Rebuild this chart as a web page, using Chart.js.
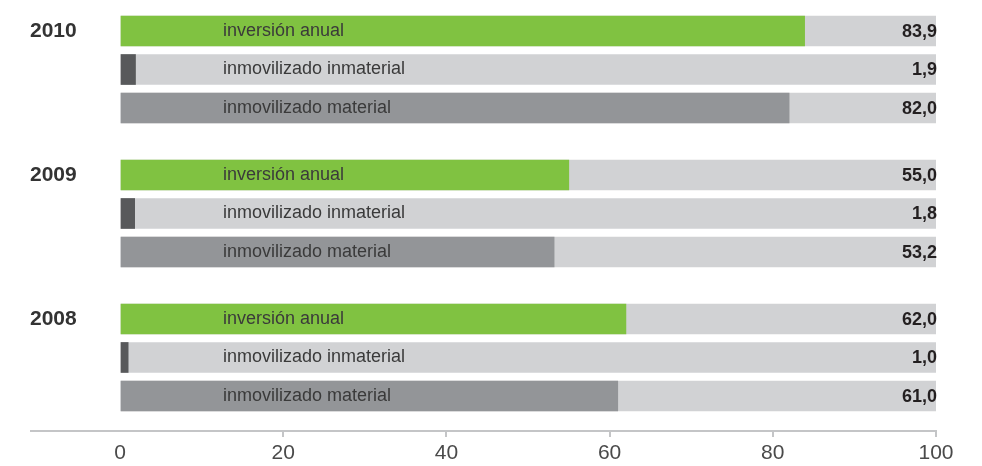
<!DOCTYPE html>
<html>
<head>
<meta charset="utf-8">
<script src="https://cdn.jsdelivr.net/npm/chart.js@4/dist/chart.umd.min.js"></script>
<style>
  html, body { margin: 0; padding: 0; background: #ffffff; }
  #wrap { width: 982px; height: 466px; position: relative; }
</style>
</head>
<body>
<div id="wrap"><canvas id="c"></canvas></div>
<script>
// Years, top to bottom
const years = ['2010', '2009', '2008'];
// Row names inside each group
const seriesNames = ['inversión anual', 'inmovilizado inmaterial', 'inmovilizado material'];
// Values (millones) per year, same order as years
const inversionAnual = [83.9, 55.0, 62.0];
const inmovilizadoInmaterial = [1.9, 1.8, 1.0];
const inmovilizadoMaterial = [82.0, 53.2, 61.0];
// Axis ticks
const xTicks = [0, 20, 40, 60, 80, 100];

const seriesValues = [inversionAnual, inmovilizadoInmaterial, inmovilizadoMaterial];
const seriesColors = ['#80c241', '#58595b', '#939598'];
const trackColor = '#d1d2d4';
const GROUP_STEP = 3.74;
const rowPos = (g, r) => g * GROUP_STEP + r;

const datasets = [];
// light grey track behind every row
const track = [];
years.forEach((y, g) => seriesNames.forEach((s, r) => track.push({ x: [0, 100], y: rowPos(g, r) })));
datasets.push({ label: 'fondo', data: track, backgroundColor: trackColor, order: 3 });
seriesNames.forEach((name, r) => {
  datasets.push({
    label: name,
    data: years.map((y, g) => ({ x: seriesValues[r][g], y: rowPos(g, r) })),
    backgroundColor: seriesColors[r],
    order: 1
  });
});

const labelPlugin = {
  id: 'rowLabels',
  afterDatasetsDraw(chart) {
    const { ctx, chartArea, scales } = chart;
    const xs = scales.x, ys = scales.y;
    ctx.save();
    ctx.textBaseline = 'middle';
    years.forEach((y, g) => {
      seriesNames.forEach((name, r) => {
        const py = ys.getPixelForValue(rowPos(g, r));
        ctx.font = '18px "Liberation Sans", Arial, sans-serif';
        ctx.fillStyle = '#3a3a3a';
        ctx.textAlign = 'left';
        ctx.fillText(name, chartArea.left + 103, py);
        ctx.font = 'bold 18px "Liberation Sans", Arial, sans-serif';
        ctx.fillStyle = '#231f20';
        ctx.textAlign = 'right';
        const v = seriesValues[r][g];
        ctx.fillText(v.toFixed(1).replace('.', ','), xs.getPixelForValue(100) + 1, py + 1);
      });
    });
    // axis baseline, extending left past the bars
    ctx.strokeStyle = '#c4c5c7';
    ctx.lineWidth = 2;
    ctx.beginPath();
    ctx.moveTo(30, chartArea.bottom);
    ctx.lineTo(xs.getPixelForValue(100) + 1, chartArea.bottom);
    ctx.stroke();
    ctx.restore();
  }
};

new Chart(document.getElementById('c'), {
  type: 'bar',
  data: { datasets },
  options: {
    indexAxis: 'y',
    responsive: true,
    maintainAspectRatio: false,
    animation: false,
    layout: { padding: { left: 30, right: 46, top: 12, bottom: 0 } },
    datasets: { bar: { grouped: false, barThickness: 30, borderWidth: 0 } },
    plugins: { legend: { display: false }, tooltip: { enabled: false } },
    scales: {
      x: {
        type: 'linear',
        min: 0,
        max: 100,
        afterBuildTicks: (s) => { s.ticks = xTicks.map(v => ({ value: v })); },
        afterFit: (s) => { s.height = 35; },
        border: { display: false },
        grid: {
          drawOnChartArea: false,
          drawTicks: true,
          tickLength: 6,
          lineWidth: 2,
          color: (c) => (c.tick && c.tick.value === 0) ? 'rgba(0,0,0,0)' : '#c4c5c7'
        },
        ticks: {
          padding: 4,
          color: '#4a4a4a',
          font: { family: '"Liberation Sans", Arial, sans-serif', size: 21 },
          callback: (v) => String(v)
        }
      },
      y: {
        type: 'linear',
        reverse: true,
        offset: false,
        min: -0.494,
        max: 10.39,
        afterBuildTicks: (s) => { s.ticks = years.map((y, g) => ({ value: rowPos(g, 0) })); },
        afterFit: (s) => { s.width = 90; s.paddingTop = 0; s.paddingBottom = 0; },
        border: { display: false },
        grid: { display: false, offset: false },
        ticks: {
          crossAlign: 'far',
          color: '#333333',
          font: { family: '"Liberation Sans", Arial, sans-serif', size: 21, weight: 'bold' },
          callback: (v) => {
            const g = years.findIndex((y, i) => Math.abs(rowPos(i, 0) - v) < 1e-6);
            return g >= 0 ? years[g] : '';
          }
        }
      }
    }
  },
  plugins: [labelPlugin]
});
</script>
</body>
</html>
